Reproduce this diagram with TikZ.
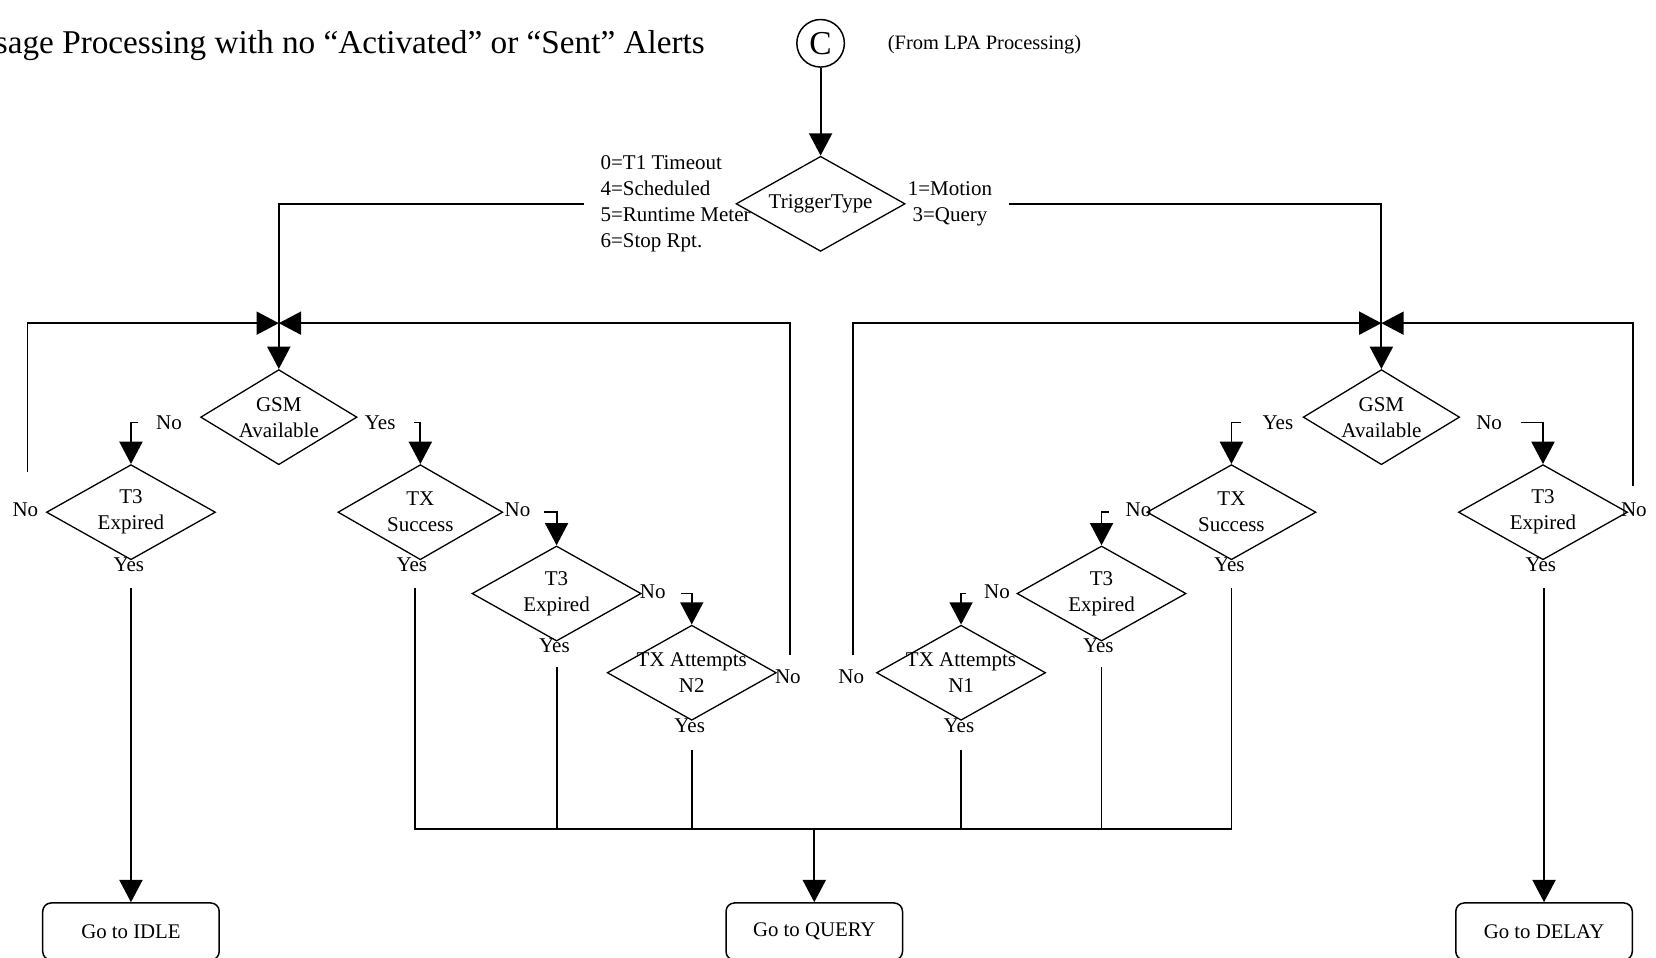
\documentclass[tikz,border=0pt]{standalone}
\usepackage{fontspec}
\setmainfont{Liberation Serif}
\usetikzlibrary{shapes.geometric,arrows.meta}

\tikzset{
  decisao/.style={diamond, draw, line width=0.35pt, inner sep=0pt,
    minimum width=1.6cm, minimum height=0.9cm},
  gsm/.style={decisao, minimum width=1.48cm},
  rot/.style={inner sep=0pt, align=center, font=\fontsize{5.65}{7}\selectfont},
  seta/.style={-{Triangle[width=6.2pt,length=6pt]}, line width=0.5pt},
  linha/.style={line width=0.5pt},
  fim/.style={draw, rounded corners=0.08cm, line width=0.4pt, minimum width=1.67cm,
    minimum height=0.54cm, font=\fontsize{5.6}{7}\selectfont},
}

\begin{document}
\begin{tikzpicture}[x=0.01cm, y=-0.01cm]
        \useasboundingbox (0,0) rectangle (1568,907);
        \clip (0,0) rectangle (1568,907);

        % Título
        \node[anchor=base east, inner sep=0pt, font=\fontsize{8.95}{10}\selectfont] (titulo) at (668,51)
            {sage Processing with no “Activated” or “Sent” Alerts};
        \node[circle, draw, line width=0.4pt, minimum size=0.45cm, inner sep=0pt,
            font=\fontsize{9}{10}\selectfont] (c) at (777,41) {C};
        \node[rot, anchor=west, font=\fontsize{5.5}{7}\selectfont] (origem) at (840,42) {(From LPA Processing)};

        % Decisão inicial
        \node[decisao, label={[rot]center:TriggerType}] (trig) at (777,193) {};
        \node[rot, anchor=west, align=left, inner sep=1.5mm] (tipoE) at (553,193)
            {0=T1 Timeout\\4=Scheduled\\5=Runtime Meter\\6=Stop Rpt.};
        \node[rot, anchor=east, inner sep=1.5mm] (tipoD) at (955,193) {1=Motion\\3=Query};

        % Ramo esquerdo
        \node[gsm, label={[rot]center:{GSM\\Available}}] (gsmE) at (264,395) {};
        \node[decisao, label={[rot]center:{T3\\Expired}}] (t3E) at (124,485) {};
        \node[decisao, minimum width=1.56cm, label={[rot]center:{TX\\Success}}] (txE) at (398,485) {};
        \node[decisao, label={[rot]center:{T3\\Expired}}] (t3F) at (527,562) {};
        \node[decisao, label={[rot]center:{TX Attempts\\N2}}] (txaE) at (655,637) {};

        % Ramo direito
        \node[gsm, label={[rot]center:{GSM\\Available}}] (gsmD) at (1308,395) {};
        \node[decisao, label={[rot]center:{TX\\Success}}] (txD) at (1166,485) {};
        \node[decisao, label={[rot]center:{T3\\Expired}}] (t3G) at (1043,562) {};
        \node[decisao, label={[rot]center:{TX Attempts\\N1}}] (txaD) at (910,637) {};
        \node[decisao, label={[rot]center:{T3\\Expired}}] (t3D) at (1461,485) {};

        % Caixas finais
        \node[fim] (idle) at (124,882) {Go to IDLE};
        \node[fim] (query) at (771,882) {Go to QUERY};
        \node[fim] (delay) at (1462,882) {Go to DELAY};

        % Rótulos
        \node[rot] (gsmE-nao) at (160,400) {No};
        \node[rot] (gsmE-sim) at (360,400) {Yes};
        \node[rot] (t3E-nao) at (24,483) {No};
        \node[rot] (t3E-sim) at (122,535) {Yes};
        \node[rot] (txE-nao) at (490,483) {No};
        \node[rot] (txE-sim) at (390,535) {Yes};
        \node[rot] (t3F-nao) at (618,560) {No};
        \node[rot] (t3F-sim) at (525,611) {Yes};
        \node[rot] (txaE-nao) at (746,641) {No};
        \node[rot] (txaE-sim) at (653,687) {Yes};
        \node[rot] (gsmD-sim) at (1210,400) {Yes};
        \node[rot] (gsmD-nao) at (1410,400) {No};
        \node[rot] (txD-nao) at (1078,483) {No};
        \node[rot] (txD-sim) at (1164,535) {Yes};
        \node[rot] (t3G-nao) at (944,560) {No};
        \node[rot] (t3G-sim) at (1040,611) {Yes};
        \node[rot] (txaD-nao) at (806,641) {No};
        \node[rot] (txaD-sim) at (908,687) {Yes};
        \node[rot] (t3D-nao) at (1547,483) {No};
        \node[rot] (t3D-sim) at (1459,535) {Yes};

        % Pontos
        \coordinate (jE) at (264,306);
        \coordinate (jD) at (1308,306);
        \coordinate (bus) at (771,785);
        \coordinate (hGsmEn) at (131,400);
        \coordinate (hGsmEs) at (392,400);
        \coordinate (hTxEn) at (515,485);
        \coordinate (hT3Fn) at (645,562);
        \coordinate (hGsmDs) at (1175,400);
        \coordinate (hGsmDn) at (1440,400);
        \coordinate (hTxDn) at (1050,485);
        \coordinate (hT3Gn) at (915,562);
        \coordinate (vT3E) at (26,447);
        \coordinate (vTxaE) at (748,620);
        \coordinate (vTxaD) at (808,620);
        \coordinate (vT3D) at (1546,460);
        \coordinate (yT3E) at (124,557);
        \coordinate (yTxE) at (393,557);
        \coordinate (yT3F) at (527,632);
        \coordinate (yTxaE) at (655,710);
        \coordinate (yTxaD) at (910,710);
        \coordinate (yT3G) at (1043,632);
        \coordinate (yTxD) at (1166,557);
        \coordinate (yT3D) at (1462,557);

        % Ligações
        \draw[seta] (c) -- (trig.north);
        \draw[seta] (tipoE.west) -| (gsmE.north);
        \draw[seta] (tipoD.east) -| (gsmD.north);
        \draw[seta] (vT3E) |- (jE);
        \draw[seta] (vTxaE) |- (jE);
        \draw[seta] (vTxaD) |- (jD);
        \draw[seta] (vT3D) |- (jD);

        \draw[seta] (hGsmEn) -| (t3E.north);
        \draw[seta] (hGsmEs) -| (txE.north);
        \draw[seta] (hTxEn) -| (t3F.north);
        \draw[seta] (hT3Fn) -| (txaE.north);
        \draw[seta] (hGsmDs) -| (txD.north);
        \draw[seta] (hGsmDn) -| (t3D.north);
        \draw[seta] (hTxDn) -| (t3G.north);
        \draw[seta] (hT3Gn) -| (txaD.north);

        \draw[linha] (yTxE) |- (bus) -| (yTxD);
        \draw[linha] (yT3F) -- (yT3F |- bus);
        \draw[linha] (yTxaE) -- (yTxaE |- bus);
        \draw[linha] (yTxaD) -- (yTxaD |- bus);
        \draw[linha] (yT3G) -- (yT3G |- bus);
        \draw[seta] (bus) -- (query.north);
        \draw[seta] (yT3E) -- (idle.north);
        \draw[seta] (yT3D) -- (delay.north);
    \end{tikzpicture}
\end{document}
